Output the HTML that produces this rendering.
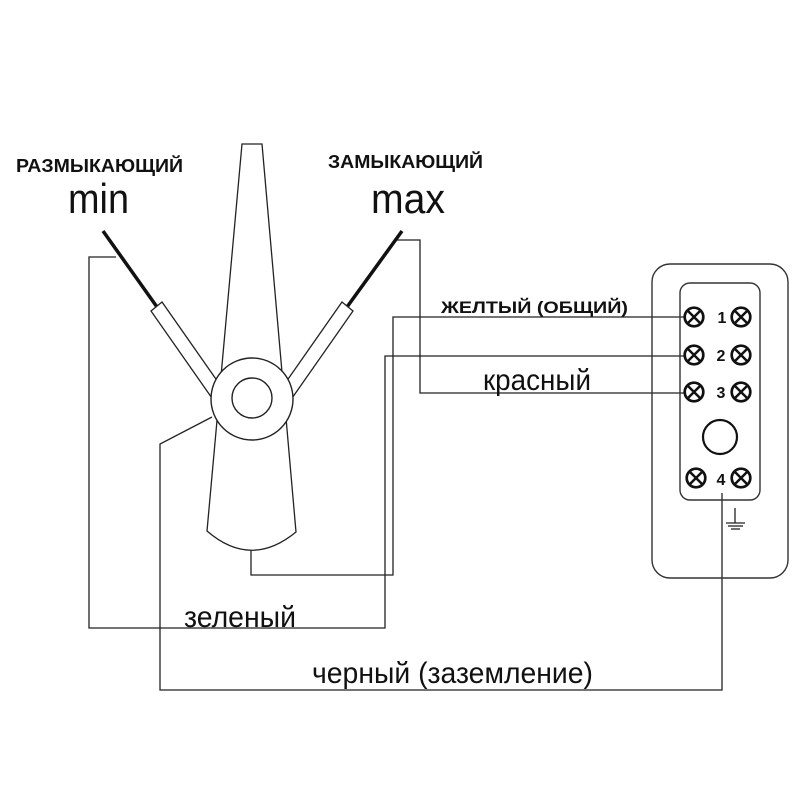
<!DOCTYPE html>
<html><head><meta charset="utf-8"><style>
html,body{margin:0;padding:0;background:#fff;}
svg{display:block;}
text{font-family:"Liberation Sans",Arial,sans-serif;fill:#111;}
</style></head><body>
<svg width="800" height="800" viewBox="0 0 800 800" xmlns="http://www.w3.org/2000/svg">
<rect width="800" height="800" fill="#fff"/>
<g fill="none" stroke="#222" stroke-width="1.3">
  <!-- green -->
  <polyline points="116,257 89,257 89,628 385,628 385,356 685,356"/>
  <!-- yellow -->
  <polyline points="251,548 251,575 393,575 393,317 685,317"/>
  <!-- red -->
  <polyline points="397,240 420,240 420,393 685,393"/>
  <!-- black -->
  <polyline points="212,417 160,444 160,690 722,690 722,493"/>
</g>
<!-- needle -->
<path d="M242,144 L262,144 L296,532 Q251,569 207,531 Z" fill="#fff" stroke="#222" stroke-width="1.3"/>
<!-- thick contacts -->
<line x1="103" y1="231" x2="157" y2="307" stroke="#111" stroke-width="3.5"/>
<line x1="402" y1="231" x2="347" y2="307" stroke="#111" stroke-width="3.5"/>
<!-- tubes -->
<polygon points="162,302 151,311 214,401 225,392" fill="#fff" stroke="#222" stroke-width="1.3"/>
<polygon points="342,302 353,311 290,401 279,392" fill="#fff" stroke="#222" stroke-width="1.3"/>
<!-- hub -->
<circle cx="252" cy="399" r="41" fill="#fff" stroke="#222" stroke-width="1.4"/>
<circle cx="252" cy="398" r="20" fill="#fff" stroke="#222" stroke-width="1.4"/>
<!-- panel -->
<rect x="652" y="264" width="136" height="314" rx="18" ry="18" fill="none" stroke="#333" stroke-width="1.4"/>
<rect x="680" y="283" width="80" height="217" rx="10" ry="10" fill="none" stroke="#333" stroke-width="1.4"/>
<g fill="#fff" stroke="#111" stroke-width="2.7">
  <circle cx="694" cy="317" r="9.3"/><circle cx="741" cy="317" r="9.3"/>
  <circle cx="694" cy="355" r="9.3"/><circle cx="741" cy="355" r="9.3"/>
  <circle cx="694" cy="392" r="9.3"/><circle cx="741" cy="392" r="9.3"/>
  <circle cx="696" cy="478" r="9.3"/><circle cx="741" cy="478" r="9.3"/>
  <circle cx="720" cy="437" r="17" stroke-width="2.2"/>
</g>
<g stroke="#111" stroke-width="2.5">
  <path d="M687.5,310.5 L700.5,323.5 M700.5,310.5 L687.5,323.5"/>
  <path d="M734.5,310.5 L747.5,323.5 M747.5,310.5 L734.5,323.5"/>
  <path d="M687.5,348.5 L700.5,361.5 M700.5,348.5 L687.5,361.5"/>
  <path d="M734.5,348.5 L747.5,361.5 M747.5,348.5 L734.5,361.5"/>
  <path d="M687.5,385.5 L700.5,398.5 M700.5,385.5 L687.5,398.5"/>
  <path d="M734.5,385.5 L747.5,398.5 M747.5,385.5 L734.5,398.5"/>
  <path d="M689.5,471.5 L702.5,484.5 M702.5,471.5 L689.5,484.5"/>
  <path d="M734.5,471.5 L747.5,484.5 M747.5,471.5 L734.5,484.5"/>
</g>
<g font-weight="bold" font-size="16" text-anchor="middle">
  <text x="722" y="323">1</text>
  <text x="721" y="361">2</text>
  <text x="721" y="398">3</text>
  <text x="721" y="485">4</text>
</g>
<!-- ground -->
<g stroke="#222" stroke-width="1.3">
  <line x1="735" y1="508" x2="735" y2="523"/>
  <line x1="726" y1="523" x2="745" y2="523"/>
  <line x1="728" y1="526" x2="743" y2="526"/>
  <line x1="731" y1="529" x2="740" y2="529"/>
</g>
<!-- labels -->
<text x="16" y="172" font-size="18" font-weight="bold" textLength="167" lengthAdjust="spacingAndGlyphs">РАЗМЫКАЮЩИЙ</text>
<text x="328" y="168" font-size="18" font-weight="bold" textLength="155" lengthAdjust="spacingAndGlyphs">ЗАМЫКАЮЩИЙ</text>
<text x="68" y="213" font-size="42" textLength="61" lengthAdjust="spacingAndGlyphs">min</text>
<text x="371" y="213" font-size="42" textLength="74" lengthAdjust="spacingAndGlyphs">max</text>
<text x="441" y="313" font-size="17" font-weight="bold" textLength="187" lengthAdjust="spacingAndGlyphs">ЖЕЛТЫЙ (ОБЩИЙ)</text>
<text x="483" y="390" font-size="30" textLength="108" lengthAdjust="spacingAndGlyphs">красный</text>
<text x="184" y="627" font-size="30" textLength="112" lengthAdjust="spacingAndGlyphs">зеленый</text>
<text x="312" y="683" font-size="30" textLength="281" lengthAdjust="spacingAndGlyphs">черный (заземление)</text>
</svg>
</body></html>
